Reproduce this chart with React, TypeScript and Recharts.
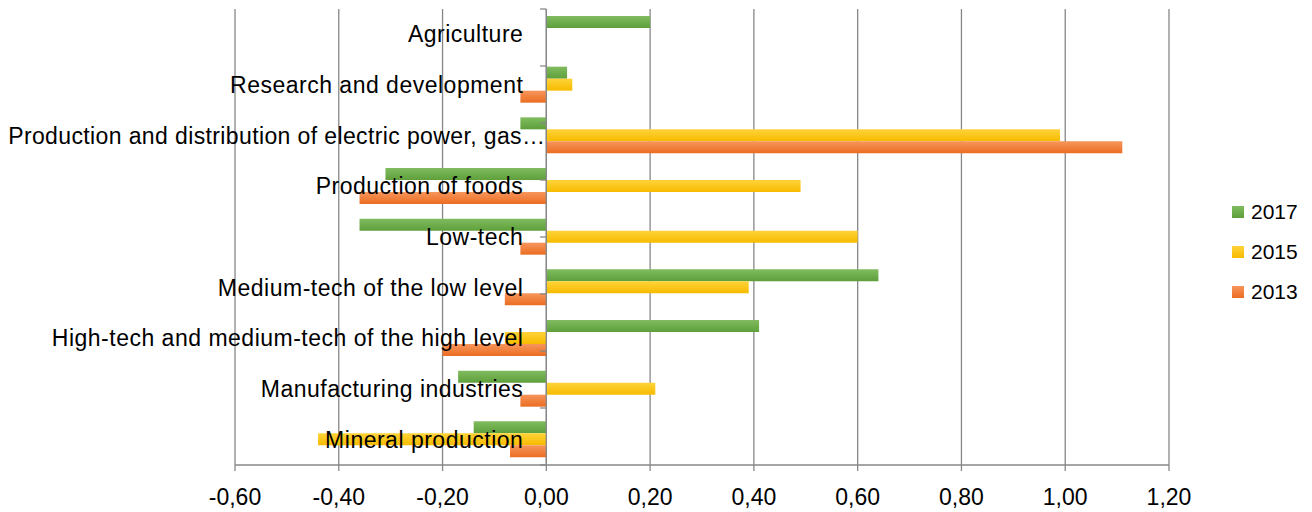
import { BarChart, Bar, XAxis, YAxis, CartesianGrid, ReferenceLine, ReferenceDot, Legend } from 'recharts'

// categories top to bottom, as they appear on the axis
const categories = [
  'Agriculture',
  'Research and development',
  'Production and distribution of electric power, gas…',
  'Production of foods',
  'Low-tech',
  'Medium-tech of the low level',
  'High-tech and medium-tech of the high level',
  'Manufacturing industries',
  'Mineral production',
]

const values2017 = [0.2, 0.04, -0.05, -0.31, -0.36, 0.64, 0.41, -0.17, -0.14]
const values2015 = [0, 0.05, 0.99, 0.49, 0.6, 0.39, -0.08, 0.21, -0.44]
const values2013 = [0, -0.05, 1.11, -0.36, -0.05, -0.08, -0.2, -0.05, -0.07]

const xTicks = [-0.6, -0.4, -0.2, 0, 0.2, 0.4, 0.6, 0.8, 1.0, 1.2]

const SERIES = [
  { key: 'v2017', name: '2017', grad: 'g2017', top: '#80BC5F', bottom: '#5E9F3B' },
  { key: 'v2015', name: '2015', grad: 'g2015', top: '#FFD33A', bottom: '#F7BB00' },
  { key: 'v2013', name: '2013', grad: 'g2013', top: '#F7955B', bottom: '#EB6D22' },
]

const data = categories.map((name, i) => ({
  name,
  v2017: values2017[i],
  v2015: values2015[i],
  v2013: values2013[i],
}))

const FONT = '"Liberation Sans", Arial, sans-serif'
const GRID = '#878787'

const fmtX = (v: number) => v.toFixed(2).replace('.', ',')

// Category name drawn just left of the zero line, centred on its band
const makeLabel = (text: string) => (props: any) => {
  const vb = props.viewBox || {}
  const cx = vb.x + (vb.width || 0) / 2
  const cy = vb.y + (vb.height || 0) / 2
  const long = text.endsWith('…')
  return (
    <text x={cx - (long ? 1 : 23)} y={cy} textAnchor="end" dominantBaseline="central"
      fontSize={23} letterSpacing={long ? 0.38 : 0.5} fontFamily={FONT} fill="#000">
      {text}
    </text>
  )
}

const LegendBox = () => (
  <div style={{ fontFamily: FONT, fontSize: 21, color: '#000' }}>
    {SERIES.map(s => (
      <div key={s.key} style={{ display: 'flex', alignItems: 'center', height: 40 }}>
        <svg width={12} height={12} style={{ marginRight: 7 }}>
          <rect width={12} height={12} fill={`url(#${s.grad})`} />
        </svg>
        <span>{s.name}</span>
      </div>
    ))}
  </div>
)

export default function App() {
  return (
    <div style={{ position: 'absolute', left: 0, top: 0, width: 1312, height: 512, background: '#fff' }}>
      <BarChart width={1312} height={512} data={data} layout="vertical"
        margin={{ top: 9, right: 143, left: 235, bottom: 0 }}
        barCategoryGap={7} barGap={0}>
        <defs>
          {SERIES.map(s => (
            <linearGradient key={s.grad} id={s.grad} x1="0" y1="0" x2="0" y2="1">
              <stop offset="0%" stopColor={s.top} />
              <stop offset="100%" stopColor={s.bottom} />
            </linearGradient>
          ))}
        </defs>
        <CartesianGrid horizontal={false} stroke={GRID} strokeWidth={1.3} />
        <XAxis type="number" domain={[-0.6, 1.2]} ticks={xTicks} tickFormatter={fmtX}
          height={47}
          axisLine={{ stroke: GRID, strokeWidth: 1.3 }} tickLine={{ stroke: GRID, strokeWidth: 1.3 }}
          tickSize={6} tickMargin={18} interval={0}
          tick={{ fill: '#000', fontSize: 23, fontFamily: FONT }} />
        <YAxis type="category" dataKey="name" width={0} hide />
        <YAxis yAxisId="edges" type="number" domain={[0, 9]} reversed hide />
        {SERIES.map(s => (
          <Bar key={s.key} dataKey={s.key} name={s.name} fill={`url(#${s.grad})`} isAnimationActive={false} />
        ))}
        <ReferenceLine x={0} stroke={GRID} strokeWidth={1.3} />
        {categories.map((_, i) => i).concat([9]).map(i => (
          <ReferenceLine key={`edge-${i}`} yAxisId="edges" ifOverflow="visible"
            segment={[{ x: -0.012, y: i }, { x: 0, y: i }]} stroke={GRID} strokeWidth={1.3} />
        ))}
        {categories.map(c => (
          <ReferenceDot key={`lbl-${c}`} x={0} y={c} r={1} fill="none" stroke="none"
            ifOverflow="visible" label={makeLabel(c)} />
        ))}
        <Legend layout="vertical" align="center" verticalAlign="middle"
          wrapperStyle={{ left: 1232, top: 192, width: 80 }} content={LegendBox} />
      </BarChart>
    </div>
  )
}
